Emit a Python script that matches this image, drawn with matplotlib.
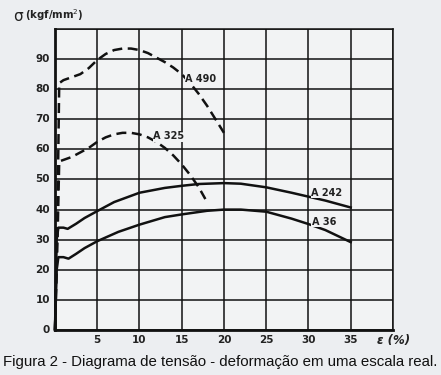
import numpy as np
import matplotlib.pyplot as plt

# strain (%) and stress (kgf/mm2)
eps_490 = [0, 0.3, 0.5, 1, 2, 3, 4, 5, 6, 7, 8, 9, 10, 11, 12, 13, 14, 15, 16, 17, 18, 19, 20]
sig_490 = [0, 40, 82, 83, 84, 85, 87, 89.7, 91.7, 93, 93.5, 93.5, 93, 92, 90.5, 89, 87.2, 85, 82, 78.5, 74.5, 70, 65.5]

eps_325 = [0, 0.3, 0.5, 1, 2, 3, 4, 5, 6, 7, 8, 9, 10, 11, 12, 13, 14, 15, 16, 17, 17.8]
sig_325 = [0, 30, 56, 56.5, 57.5, 59, 60.5, 62.5, 64, 65, 65.5, 65.5, 65, 64, 62.5, 60.5, 58, 55, 51.5, 47.5, 43.5]

eps_242 = [0, 0.2, 0.4, 1, 1.5, 2.5, 3.5, 5, 7, 10, 13, 15, 17, 20, 22, 25, 28, 30, 32, 35]
sig_242 = [0, 30, 34, 34, 33.6, 35.3, 37.2, 39.5, 42.5, 45.6, 47.2, 47.9, 48.5, 48.8, 48.6, 47.4, 45.6, 44.3, 43, 40.7]

eps_36 = [0, 0.2, 0.4, 1, 1.6, 2.5, 3.5, 5, 7.5, 10, 13, 15, 18, 20, 22, 25, 28, 30, 32, 35]
sig_36 = [0, 20, 24.2, 24.2, 23.7, 25.3, 27.2, 29.5, 32.6, 35, 37.5, 38.4, 39.6, 40, 40, 39.3, 37, 35.2, 33.2, 29.2]

labels = ["A 490", "A 325", "A 242", "A 36"]
label_pos = [(15.4, 83.3), (11.6, 64.3), (30.3, 45.6), (30.4, 36)]

xticks = [5, 10, 15, 20, 25, 30, 35]
yticks = [0, 10, 20, 30, 40, 50, 60, 70, 80, 90]

fig = plt.figure(figsize=(4.41, 3.75), dpi=100, facecolor='#eceef1')
ax = fig.add_axes([0.1247, 0.12, 0.7663, 0.8027])
ax.set_facecolor('#f2f3f4')

ax.set_xlim(0, 40)
ax.set_ylim(0, 100)
ax.set_xticks(np.arange(0, 41, 5))
ax.set_yticks(np.arange(0, 101, 10))
ax.grid(True, color='#111111', linewidth=1.1)
ax.set_axisbelow(True)
ax.tick_params(length=0, labelbottom=False, labelleft=False)
for s in ax.spines.values():
    s.set_color('#111111')
    s.set_linewidth(1.1)
ax.spines['left'].set_linewidth(2)
ax.spines['bottom'].set_linewidth(2)

tfont = dict(fontsize=7.5, fontweight='bold', color='#222222', family='DejaVu Sans')
for v in yticks:
    ax.text(-0.6, v, str(v), ha='right', va='center', **tfont)
for v in xticks:
    ax.text(v, -3.4, str(v), ha='center', va='center', **tfont)
ax.text(38.1, -3.4, 'ε (%)', ha='left', va='center', fontsize=8.5, fontweight='bold',
        style='italic', color='#222222')
ax.text(-5.0, 104.3, 'σ', ha='left', va='center', fontsize=11, color='#222222')
ax.text(-3.6, 104.5, '(kgf/mm$^2$)', ha='left', va='center', fontsize=7.3,
        fontweight='bold', color='#222222')

ax.plot(eps_490, sig_490, color='#111111', lw=1.8, ls=(0, (4, 2.2)), clip_on=False)
ax.plot(eps_325, sig_325, color='#111111', lw=1.8, ls=(0, (4, 2.2)), clip_on=False)
ax.plot(eps_242, sig_242, color='#111111', lw=1.8, clip_on=False)
ax.plot(eps_36, sig_36, color='#111111', lw=1.8, clip_on=False)

for lab, (x, y) in zip(labels, label_pos):
    ax.text(x, y, lab, ha='left', va='center', fontsize=7, fontweight='bold',
            color='#222222', bbox=dict(facecolor='#f2f3f4', edgecolor='none', pad=0.3))

fig.text(0.007, 0.035, 'Figura 2 - Diagrama de tensão - deformação em uma escala real.',
         ha='left', va='center', fontsize=10.8, family='Liberation Sans', color='#111111')

fig.savefig('out.png', dpi=100, facecolor=fig.get_facecolor())
